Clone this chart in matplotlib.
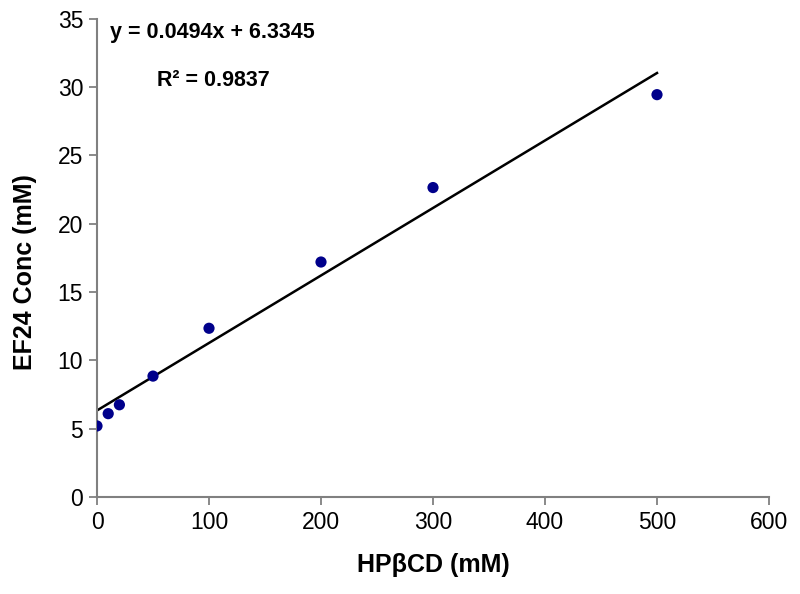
import matplotlib
matplotlib.use("Agg")
import matplotlib.pyplot as plt
import numpy as np

plt.rcParams['font.family'] = ['Liberation Sans', 'DejaVu Sans']

hpbcd = [0, 10, 20, 50, 100, 200, 300, 500]
ef24 = [5.2, 6.1, 6.75, 8.85, 12.35, 17.2, 22.65, 29.45]
slope = 0.0494
intercept = 6.3345
r2 = 0.9837

x_ticks = [0, 100, 200, 300, 400, 500, 600]
y_ticks = [0, 5, 10, 15, 20, 25, 30, 35]

fig = plt.figure(figsize=(8, 5.94), dpi=100)
ax = fig.add_axes([0.12125, 0.1633, 0.84, 0.805])

fx = np.array([hpbcd[0], hpbcd[-1]])
ax.plot(fx, slope * fx + intercept, color='black', lw=1.8, zorder=2)
ax.scatter(hpbcd, ef24, s=65, color='#00008B', edgecolors='none', zorder=3)

ax.set_xlim(0, 600)
ax.set_ylim(0, 35)
ax.set_xticks(x_ticks)
ax.set_yticks(y_ticks)
ax.tick_params(direction='out', length=6, width=1.3, color='#808080',
               labelsize=16.5, pad=4)
for s in ['top', 'right']:
    ax.spines[s].set_visible(False)
for s in ['left', 'bottom']:
    ax.spines[s].set_color('#808080')
    ax.spines[s].set_linewidth(1.5)

ax.set_xlabel('HPβCD (mM)', fontsize=18, fontweight='bold', labelpad=14)
ax.set_ylabel('EF24 Conc (mM)', fontsize=18, fontweight='bold')
ax.yaxis.set_label_coords(-0.09, 0.47)

ax.text(12, 34.0, f'y = {slope}x + {intercept}', fontsize=15.5, fontweight='bold',
        ha='left', va='center')
ax.text(53.5, 30.5, f'R² = {r2}', fontsize=15.5, fontweight='bold',
        ha='left', va='center')

fig.savefig('out.png', dpi=100)
